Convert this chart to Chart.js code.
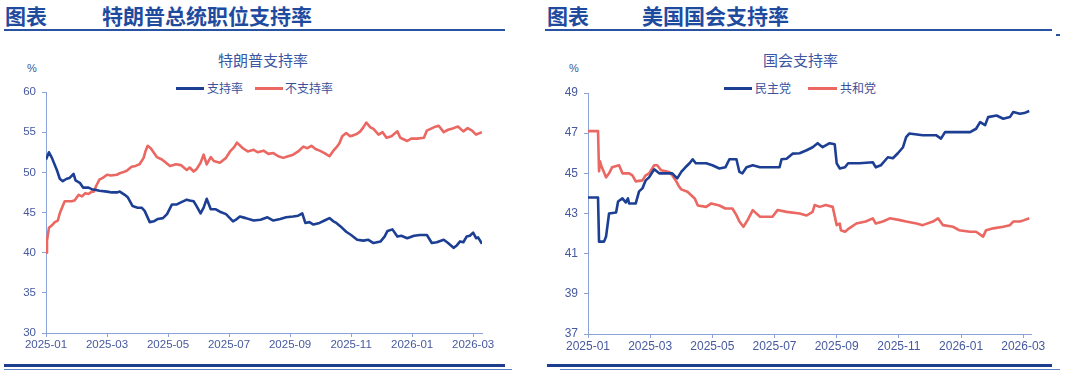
<!DOCTYPE html>
<html>
<head>
<meta charset="utf-8">
<script src="https://cdn.jsdelivr.net/npm/chart.js@4.4.1/dist/chart.umd.min.js"></script>
<style>
  body { margin: 0; background: #fff; width: 1080px; height: 371px; position: relative; overflow: hidden;
         font-family: "Liberation Sans", "Noto Sans CJK SC", sans-serif; }
  .abs { position: absolute; }
  .head { font-family: "Noto Sans CJK SC", sans-serif; font-weight: 700; font-size: 21px; color: #1f4b9f; line-height: 24px; top: 3px; }
  .rule { height: 2px; background: #2a52a3; top: 29px; }
  .foot1 { height: 3px; background: #1d3e8d; top: 364px; }
  .foot2 { height: 1px; background: #5a80c8; top: 369px; }
  .ctitle { font-family: "Noto Sans CJK SC", sans-serif; font-size: 15px; color: #3b56a2; top: 50px; line-height: 20px; }
  .pct { font-size: 11px; color: #44568f; top: 62px; }
  .leg { font-family: "Noto Sans CJK SC", sans-serif; font-size: 12px; color: #3b4f9a; top: 80px; line-height: 16px; }
  .sw { height: 3px; top: 87px; }
  canvas { position: absolute; }
</style>
</head>
<body>
<div class="abs head" style="left:5px">图表</div>
<div class="abs head" style="left:102px">特朗普总统职位支持率</div>
<div class="abs rule" style="left:4px;width:501px"></div>
<div class="abs head" style="left:547px">图表</div>
<div class="abs head" style="left:642px">美国国会支持率</div>
<div class="abs rule" style="left:545px;width:507px"></div>
<div class="abs" style="left:1056px;top:34px;width:4px;height:2px;background:#2a52a3"></div>

<div class="abs ctitle" style="left:218px">特朗普支持率</div>
<div class="abs pct" style="left:27px">%</div>
<div class="abs sw" style="left:176px;width:28px;background:#1c3f94"></div>
<div class="abs leg" style="left:207px">支持率</div>
<div class="abs sw" style="left:255px;width:28px;background:#ea6762"></div>
<div class="abs leg" style="left:285px">不支持率</div>

<div class="abs ctitle" style="left:763px">国会支持率</div>
<div class="abs pct" style="left:569px">%</div>
<div class="abs sw" style="left:724px;width:28px;background:#1c3f94"></div>
<div class="abs leg" style="left:755px">民主党</div>
<div class="abs sw" style="left:808px;width:29px;background:#ea6762"></div>
<div class="abs leg" style="left:840px">共和党</div>

<div class="abs foot1" style="left:4px;width:501px"></div>
<div class="abs foot2" style="left:4px;width:508px"></div>
<div class="abs foot1" style="left:547px;width:505px"></div>
<div class="abs foot2" style="left:560px;width:500px"></div>

<canvas id="trumpChart" style="left:0;top:40px" width="510" height="330"></canvas>
<canvas id="congressChart" style="left:540px;top:40px" width="530" height="330"></canvas>

<script>
// 特朗普支持率
const approveDates = ['2025-01-01','2025-01-04','2025-01-07','2025-01-12','2025-01-15','2025-01-18','2025-01-22','2025-01-25','2025-01-29','2025-01-31',
  '2025-02-04','2025-02-07','2025-02-12','2025-02-15','2025-02-19','2025-02-22','2025-03-01','2025-03-06','2025-03-11','2025-03-14',
  '2025-03-19','2025-03-22','2025-03-27','2025-04-01','2025-04-05','2025-04-08','2025-04-13','2025-04-17','2025-04-21','2025-04-26',
  '2025-04-30','2025-05-05','2025-05-10','2025-05-13','2025-05-20','2025-05-23','2025-05-27','2025-05-30','2025-06-03','2025-06-06',
  '2025-06-09','2025-06-13','2025-06-18','2025-06-22','2025-06-28','2025-07-05','2025-07-08','2025-07-12','2025-07-18','2025-07-26',
  '2025-08-02','2025-08-09','2025-08-15','2025-08-22','2025-08-28','2025-09-04','2025-09-09','2025-09-13','2025-09-16','2025-09-20',
  '2025-09-24','2025-09-30','2025-10-05','2025-10-10','2025-10-14','2025-10-17','2025-10-21','2025-10-27','2025-11-01','2025-11-07',
  '2025-11-13','2025-11-18','2025-11-23','2025-11-30','2025-12-04','2025-12-07','2025-12-12','2025-12-17','2025-12-21','2025-12-27',
  '2026-01-03','2026-01-09','2026-01-16','2026-01-21','2026-01-26','2026-02-02','2026-02-06','2026-02-11','2026-02-14','2026-02-17',
  '2026-02-20','2026-02-23','2026-02-26','2026-03-01','2026-03-04','2026-03-06','2026-03-10'];
const approveValues = [51.6,52.5,51.8,50.3,49.2,48.9,49.2,49.3,49.8,49.0,
  48.7,48.1,48.1,47.9,47.8,47.7,47.6,47.5,47.5,47.6,
  47.2,46.9,45.8,45.6,45.6,45.2,43.8,43.9,44.2,44.3,
  44.8,46.0,46.0,46.2,46.6,46.5,46.4,45.8,44.9,45.6,
  46.7,45.4,45.4,45.1,44.8,43.9,44.1,44.5,44.3,44.0,
  44.1,44.4,44.0,44.2,44.4,44.5,44.6,44.9,43.7,43.8,
  43.5,43.7,44.0,44.3,43.9,43.7,43.3,42.6,42.2,41.6,
  41.5,41.6,41.2,41.4,42.0,42.7,42.9,42.0,42.1,41.8,
  42.1,42.2,42.2,41.2,41.3,41.6,41.2,40.6,40.9,41.4,
  41.3,42.0,42.1,42.5,41.8,41.9,41.1];

const disapproveDates = ['2025-01-01','2025-01-02','2025-01-04','2025-01-07','2025-01-10','2025-01-13','2025-01-15','2025-01-18','2025-01-20','2025-01-27',
  '2025-01-30','2025-02-03','2025-02-06','2025-02-09','2025-02-12','2025-02-15','2025-02-17','2025-02-19','2025-02-22','2025-02-25',
  '2025-03-01','2025-03-05','2025-03-11','2025-03-14','2025-03-17','2025-03-21','2025-03-26','2025-03-30','2025-04-03','2025-04-07',
  '2025-04-09','2025-04-11','2025-04-14','2025-04-20','2025-04-25','2025-05-03','2025-05-09','2025-05-14','2025-05-20','2025-05-23',
  '2025-05-27','2025-05-30','2025-06-03','2025-06-06','2025-06-09','2025-06-13','2025-06-16','2025-06-22','2025-06-28','2025-07-02',
  '2025-07-06','2025-07-09','2025-07-15','2025-07-20','2025-07-26','2025-07-30','2025-08-05','2025-08-10','2025-08-15','2025-08-20',
  '2025-08-25','2025-08-30','2025-09-04','2025-09-09','2025-09-14','2025-09-18','2025-09-22','2025-09-26','2025-09-30','2025-10-05',
  '2025-10-10','2025-10-14','2025-10-17','2025-10-20','2025-10-23','2025-10-27','2025-10-31','2025-11-03','2025-11-07','2025-11-10',
  '2025-11-13','2025-11-16','2025-11-20','2025-11-23','2025-11-28','2025-12-02','2025-12-06','2025-12-11','2025-12-17','2025-12-20',
  '2025-12-27','2025-12-31','2026-01-06','2026-01-13','2026-01-16','2026-01-23','2026-01-28','2026-02-02','2026-02-06','2026-02-11',
  '2026-02-15','2026-02-20','2026-02-24','2026-02-28','2026-03-04','2026-03-10'];
const disapproveValues = [40.0,41.5,43.1,43.4,43.8,44.0,44.9,45.8,46.4,46.4,
  46.5,47.2,47.0,47.4,47.3,47.6,47.6,48.3,49.1,49.3,
  49.7,49.6,49.7,49.9,50.0,50.2,50.7,50.8,51.0,51.8,
  52.7,53.3,53.0,51.9,51.6,50.8,51.0,50.9,50.3,50.6,
  50.1,50.4,51.2,52.2,51.0,51.9,51.4,51.2,51.8,52.6,
  53.1,53.7,53.0,52.6,52.8,52.5,52.7,52.3,52.4,52.0,
  51.8,52.0,52.2,52.6,53.2,53.0,53.3,52.9,52.7,52.4,
  52.0,52.7,53.1,53.6,54.5,54.9,54.5,54.6,54.8,55.1,
  55.6,56.2,55.6,55.4,54.7,55.0,54.3,54.5,55.1,54.3,
  53.9,54.2,54.2,54.3,55.2,55.6,55.8,55.0,55.3,55.5,
  55.7,55.1,55.5,55.2,54.7,55.0];

// 国会支持率
const demDates = ['2025-01-01','2025-01-11','2025-01-12','2025-01-17','2025-01-19','2025-01-22','2025-01-29','2025-01-31','2025-02-04','2025-02-07',
  '2025-02-09','2025-02-10','2025-02-16','2025-02-19','2025-02-22','2025-02-25','2025-02-28','2025-03-05','2025-03-10','2025-03-23',
  '2025-03-28','2025-04-01','2025-04-05','2025-04-09','2025-04-12','2025-04-15','2025-04-25','2025-05-01','2025-05-08','2025-05-14',
  '2025-05-18','2025-05-25','2025-05-28','2025-05-31','2025-06-04','2025-06-10','2025-06-17','2025-07-06','2025-07-08','2025-07-13',
  '2025-07-19','2025-07-26','2025-08-02','2025-08-08','2025-08-13','2025-08-18','2025-08-25','2025-08-30','2025-09-01','2025-09-04',
  '2025-09-09','2025-09-12','2025-09-23','2025-10-06','2025-10-09','2025-10-14','2025-10-21','2025-10-26','2025-10-31','2025-11-05',
  '2025-11-08','2025-11-11','2025-11-24','2025-12-07','2025-12-12','2025-12-16','2026-01-10','2026-01-16','2026-01-20','2026-01-25',
  '2026-01-28','2026-02-05','2026-02-11','2026-02-17','2026-02-20','2026-02-26','2026-03-02','2026-03-07'];
const demValues = [43.8,43.8,41.6,41.6,41.85,43.0,43.05,43.6,43.75,43.55,
  43.75,43.5,43.5,44.1,44.25,44.65,44.8,45.2,45.0,45.0,
  44.75,45.07,45.3,45.5,45.7,45.5,45.5,45.4,45.24,45.3,
  45.7,45.7,45.07,45.0,45.3,45.4,45.3,45.3,45.7,45.73,
  45.98,46.0,46.15,46.3,46.5,46.3,46.5,46.45,45.5,45.24,
  45.3,45.5,45.5,45.55,45.3,45.4,45.8,45.75,46.0,46.3,
  46.8,46.98,46.9,46.9,46.73,47.05,47.05,47.22,47.55,47.4,
  47.8,47.88,47.72,47.8,48.05,47.97,48.0,48.1];

const repDates = ['2025-01-01','2025-01-11','2025-01-12','2025-01-13','2025-01-14','2025-01-19','2025-01-22','2025-01-25','2025-02-01','2025-02-04',
  '2025-02-10','2025-02-13','2025-02-16','2025-02-22','2025-02-25','2025-02-28','2025-03-05','2025-03-08','2025-03-12','2025-03-20',
  '2025-03-23','2025-03-27','2025-03-30','2025-04-01','2025-04-07','2025-04-14','2025-04-17','2025-04-25','2025-04-30','2025-05-08',
  '2025-05-14','2025-05-21','2025-05-25','2025-05-28','2025-06-01','2025-06-05','2025-06-10','2025-06-17','2025-06-29','2025-07-04',
  '2025-07-13','2025-07-26','2025-08-02','2025-08-08','2025-08-10','2025-08-15','2025-08-21','2025-08-28','2025-09-01','2025-09-04',
  '2025-09-05','2025-09-09','2025-09-13','2025-09-20','2025-09-29','2025-10-06','2025-10-09','2025-10-16','2025-10-23','2025-11-02',
  '2025-11-08','2025-11-18','2025-11-24','2025-12-04','2025-12-09','2025-12-14','2025-12-24','2025-12-30','2026-01-10','2026-01-16',
  '2026-01-23','2026-01-26','2026-02-02','2026-02-11','2026-02-17','2026-02-20','2026-02-26','2026-03-02','2026-03-07'];
const repValues = [47.1,47.1,45.1,45.6,45.4,44.8,45.0,45.3,45.4,45.0,
  45.0,44.9,44.6,44.65,44.9,45.0,45.4,45.4,45.15,45.07,
  44.9,44.6,44.33,44.2,44.08,43.75,43.4,43.33,43.5,43.4,
  43.25,43.25,42.92,42.6,42.34,42.67,43.17,42.84,42.84,43.17,
  43.08,43.0,42.9,43.08,43.42,43.33,43.42,43.33,42.42,42.5,
  42.17,42.09,42.26,42.5,42.6,42.76,42.5,42.6,42.76,42.67,
  42.6,42.5,42.42,42.6,42.76,42.42,42.34,42.17,42.09,42.09,
  41.85,42.17,42.26,42.34,42.42,42.6,42.6,42.67,42.76];

const BLUE = '#1c3f94';
const RED = '#ea6762';
const AXIS = '#8ba2da';
const TICK = '#46599e';

// month index since 2025-01, fractional within the month
const toMonth = (s) => {
    const [y, m, d] = s.split('-').map(Number);
    const days = new Date(y, m, 0).getDate();
    return (y - 2025) * 12 + (m - 1) + (d - 1) / days;
};
const series = (dates, values) => dates.map((d, i) => ({ x: toMonth(d), y: values[i] }));
const monthLabel = (v) => `${2025 + Math.floor(v / 12)}-${String(v % 12 + 1).padStart(2, '0')}`;

const makeChart = (id, datasets, yMin, yMax, yStep, xMax, yWidth, padding, fontSize) => {
    const ctx = document.getElementById(id).getContext('2d');
    return new Chart(ctx, {
        type: 'line',
        data: {
            datasets: datasets.map(ds => ({
                label: ds.label,
                data: ds.data,
                borderColor: ds.color,
                borderWidth: 2.6,
                pointRadius: 0,
                tension: 0,
                borderJoinStyle: 'round',
                fill: false
            }))
        },
        options: {
            responsive: false,
            animation: false,
            layout: { padding: padding },
            plugins: { legend: { display: false }, title: { display: false }, tooltip: { enabled: false } },
            scales: {
                x: {
                    type: 'linear',
                    min: 0,
                    max: xMax,
                    afterFit: (s) => { s.height = 22; },
                    border: { color: AXIS, width: 1 },
                    grid: { drawOnChartArea: false, color: AXIS, tickLength: 4 },
                    ticks: {
                        stepSize: 2,
                        includeBounds: false,
                        autoSkip: false,
                        maxRotation: 0,
                        padding: 1,
                        color: TICK,
                        font: { family: 'Liberation Sans', size: fontSize },
                        callback: (v) => monthLabel(v)
                    }
                },
                y: {
                    min: yMin,
                    max: yMax,
                    afterFit: (s) => { s.width = yWidth; },
                    border: { color: AXIS, width: 1 },
                    grid: { drawOnChartArea: false, color: AXIS, tickLength: 4 },
                    ticks: {
                        stepSize: yStep,
                        padding: 6,
                        color: TICK,
                        font: { family: 'Liberation Sans', size: fontSize }
                    }
                }
            }
        }
    });
};

makeChart('trumpChart', [
    { label: '支持率', data: series(approveDates, approveValues), color: BLUE },
    { label: '不支持率', data: series(disapproveDates, disapproveValues), color: RED }
], 30, 60, 5, toMonth(approveDates[approveDates.length - 1]), 46,
   { top: 52, right: 28, bottom: 15, left: 0 }, 11.5);

makeChart('congressChart', [
    { label: '民主党', data: series(demDates, demValues), color: BLUE },
    { label: '共和党', data: series(repDates, repValues), color: RED }
], 37, 49, 2, 14.25, 48,
   { top: 53, right: 39, bottom: 14, left: 0 }, 12);
</script>
</body>
</html>
